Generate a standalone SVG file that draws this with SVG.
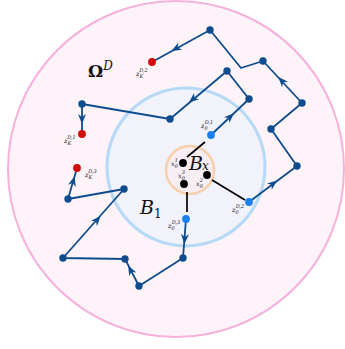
<svg xmlns="http://www.w3.org/2000/svg" width="345" height="349" viewBox="0 0 345 349">
<style>
.w{fill:none;stroke:#0f4c8e;stroke-width:1.8;stroke-linejoin:round}
.k{fill:none;stroke:#000;stroke-width:1.7}
.n{fill:#0f4c8e}
.b{fill:#1a80f2}
.r{fill:#d10a0a}
.x{fill:#000}
.m{font-family:"DejaVu Serif","Liberation Serif",serif;font-style:italic;fill:#222}
.s{font-size:6.5px}
.t{font-size:5px}
</style>
<defs>
<marker id="ah" viewBox="0 0 10 10" refX="6" refY="5" markerWidth="10" markerHeight="10" markerUnits="userSpaceOnUse" orient="auto">
<path d="M0,1 L10,5 L0,9 L3,5 Z" fill="#0f4c8e"/>
</marker>
</defs>
<g id="omega">
<circle cx="176" cy="169" r="168" fill="#fdf3f9" stroke="#f7b2dc" stroke-width="2"/>
</g>
<g id="B1">
<circle cx="186" cy="167" r="79" fill="#f1f2fa" stroke="#b5d9f6" stroke-width="3"/>
</g>
<g id="Bx">
<circle cx="190" cy="170" r="24" fill="#f6eef3" stroke="#f8ceab" stroke-width="2.5"/>
</g>
<g id="connectors">
<path class="w" d="M249,202 L297,166 L271,129 L302,103 L263,61 L241,68 L210,30 L152,62"/>
<path class="w" d="M211,135 L249,99 L227,71 L170,119 L82,104 L82,134"/>
<path class="w" d="M186,219 L183,258 L139,286 L125,259 L63,258 L124,189 L68,199 L77,168"/>
<path d="M249,202 L274,183" fill="none" stroke="none" marker-end="url(#ah)"/>
<path d="M302,103 L281,80" fill="none" stroke="none" marker-end="url(#ah)"/>
<path d="M210,30 L175,49" fill="none" stroke="none" marker-end="url(#ah)"/>
<path d="M211,135 L231,116" fill="none" stroke="none" marker-end="url(#ah)"/>
<path d="M227,71 L192,100" fill="none" stroke="none" marker-end="url(#ah)"/>
<path d="M82,104 L82,120" fill="none" stroke="none" marker-end="url(#ah)"/>
<path d="M186,219 L184.6,240" fill="none" stroke="none" marker-end="url(#ah)"/>
<path d="M139,286 L130,269" fill="none" stroke="none" marker-end="url(#ah)"/>
<path d="M63,258 L98,219" fill="none" stroke="none" marker-end="url(#ah)"/>
<path d="M68,199 L73.5,180" fill="none" stroke="none" marker-end="url(#ah)"/>
<path class="k" d="M187,157 L205,142"/>
<path class="k" d="M187,192 L187,212"/>
<path class="k" d="M212,180 L245,200"/>
</g>
<g id="walk-nodes">
<circle class="n" cx="297" cy="166" r="3.7"/>
<circle class="n" cx="271" cy="129" r="3.7"/>
<circle class="n" cx="302" cy="103" r="3.7"/>
<circle class="n" cx="263" cy="61" r="3.7"/>
<circle class="n" cx="210" cy="30" r="3.7"/>
<circle class="n" cx="249" cy="99" r="3.7"/>
<circle class="n" cx="227" cy="71" r="3.7"/>
<circle class="n" cx="170" cy="119" r="3.7"/>
<circle class="n" cx="82" cy="104" r="3.7"/>
<circle class="n" cx="183" cy="258" r="3.7"/>
<circle class="n" cx="139" cy="286" r="3.7"/>
<circle class="n" cx="125" cy="259" r="3.7"/>
<circle class="n" cx="63" cy="258" r="3.7"/>
<circle class="n" cx="124" cy="189" r="3.7"/>
<circle class="n" cx="68" cy="199" r="3.7"/>
</g>
<g id="z0D1"><circle class="b" cx="211" cy="135" r="3.9"/><text class="m s" x="201" y="128">z<tspan class="t" dy="1.5">0</tspan><tspan class="t" dx="-3" dy="-5.5">D,1</tspan></text></g>
<g id="z0D2"><circle class="b" cx="249" cy="202" r="3.9"/><text class="m s" x="232" y="212">z<tspan class="t" dy="1.5">0</tspan><tspan class="t" dx="-3" dy="-5.5">D,2</tspan></text></g>
<g id="z0D3"><circle class="b" cx="186" cy="219" r="3.9"/><text class="m s" x="168" y="228">z<tspan class="t" dy="1.5">0</tspan><tspan class="t" dx="-3" dy="-5.5">D,3</tspan></text></g>
<g id="zKD1"><circle class="r" cx="82" cy="134" r="3.9"/><text class="m s" x="64" y="143">z<tspan class="t" dy="1.5">K</tspan><tspan class="t" dx="-4" dy="-5.5">D,1</tspan></text></g>
<g id="zKD2"><circle class="r" cx="152" cy="62" r="3.9"/><text class="m s" x="136" y="76">z<tspan class="t" dy="1.5">K</tspan><tspan class="t" dx="-4" dy="-5.5">D,2</tspan></text></g>
<g id="zKD3"><circle class="r" cx="77" cy="168" r="3.9"/><text class="m s" x="85" y="177">z<tspan class="t" dy="1.5">K</tspan><tspan class="t" dx="-4" dy="-5.5">D,3</tspan></text></g>
<g id="x01"><circle class="x" cx="183" cy="163" r="3.9"/><text class="m s" x="171" y="166">x<tspan class="t" dy="1.5">0</tspan><tspan class="t" dx="-3" dy="-5.5">1</tspan></text></g>
<g id="x03"><circle class="x" cx="184" cy="184" r="3.9"/><text class="m s" x="178" y="178">x<tspan class="t" dy="1.5">0</tspan><tspan class="t" dx="-3" dy="-5.5">3</tspan></text></g>
<g id="x02"><circle class="x" cx="207" cy="175" r="3.9"/><text class="m s" x="196" y="186">x<tspan class="t" dy="1.5">0</tspan><tspan class="t" dx="-3" dy="-5.5">2</tspan></text></g>
<g id="labels">
<text x="88" y="77" font-family="DejaVu Serif,Liberation Serif,serif" font-weight="bold" font-size="17" fill="#111">Ω<tspan font-style="italic" font-weight="normal" font-size="12" dy="-7">D</tspan></text>
<text x="140" y="214" font-family="DejaVu Serif,Liberation Serif,serif" font-style="italic" font-size="19" fill="#111">B<tspan font-style="normal" font-size="12" dy="4">1</tspan></text>
<text x="189" y="170" font-family="DejaVu Serif,Liberation Serif,serif" font-style="italic" font-size="19" fill="#111">B<tspan font-size="12" dx="-1" dy="0">x</tspan></text>
</g>
</svg>
